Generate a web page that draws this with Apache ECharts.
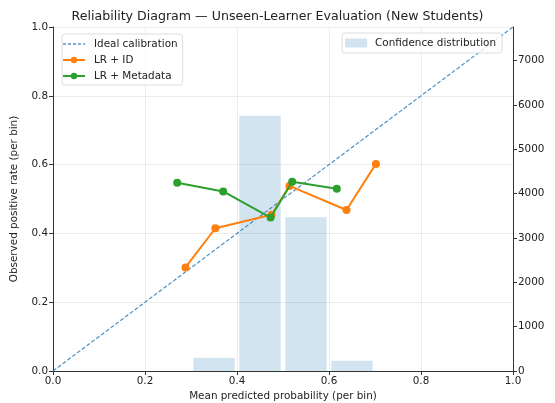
<!DOCTYPE html>
<html>
<head>
<meta charset="utf-8">
<script src="https://cdn.jsdelivr.net/npm/echarts@6/dist/echarts.min.js"></script>
<style>html,body{margin:0;padding:0;background:#fff;}#c{width:555px;height:403px;}</style>
</head>
<body>
<div id="c"></div>
<script>
const idealX = [0, 1];
const idealY = [0, 1];
const lrIdX = [0.288, 0.353, 0.475, 0.514, 0.638, 0.702];
const lrIdY = [0.301, 0.415, 0.454, 0.538, 0.468, 0.602];
const lrMetaX = [0.270, 0.370, 0.473, 0.520, 0.617];
const lrMetaY = [0.547, 0.522, 0.446, 0.550, 0.530];
const binStart = [0.305, 0.405, 0.505, 0.605];
const binEnd = [0.395, 0.495, 0.595, 0.695];
const binCount = [300, 5760, 3470, 232];
const xTicks = [0, 0.2, 0.4, 0.6, 0.8, 1.0];

const font = 'DejaVu Sans';
const fs = 10.4;
const zip = (a, b) => a.map((v, i) => [v, b[i]]);
const chart = echarts.init(document.getElementById('c'));
const axisLine = { show: true, lineStyle: { color: '#333', width: 1 } };
const axisTick = { show: true, length: 4, lineStyle: { color: '#333' } };
chart.setOption({
  animation: false,
  textStyle: { fontFamily: font },
  title: {
    text: 'Reliability Diagram \u2014 Unseen-Learner Evaluation (New Students)',
    left: 'center', top: 5,
    textStyle: { fontFamily: font, fontSize: 12.6, fontWeight: 'normal', color: '#222' }
  },
  grid: { left: 53, right: 42, top: 27, bottom: 32, outerBoundsMode: 'none', containLabel: false },
  legend: [
    {
      data: [{ name: 'Ideal calibration', itemStyle: { opacity: 0 },
               lineStyle: { type: [3, 2], width: 1.3, color: '#5b9bd0', opacity: 1 } },
             'LR + ID', 'LR + Metadata'],
      orient: 'vertical', left: 62, top: 34,
      itemWidth: 22, itemHeight: 8, itemGap: 6,
      padding: [5, 5, 4, 0],
      borderColor: '#ddd', borderWidth: 1, borderRadius: 3,
      backgroundColor: 'rgba(255,255,255,0.8)',
      textStyle: { fontFamily: font, fontSize: fs, color: '#222', padding: [0, 0, 0, 4] }
    },
    {
      data: [{ name: 'Confidence distribution', icon: 'rect' }],
      right: 53, top: 33,
      itemWidth: 22, itemHeight: 9,
      padding: [5, 6, 5, 3],
      borderColor: '#ddd', borderWidth: 1, borderRadius: 3,
      backgroundColor: 'rgba(255,255,255,0.8)',
      textStyle: { fontFamily: font, fontSize: fs, color: '#222', padding: [0, 0, 0, 3] }
    }
  ],
  xAxis: {
    type: 'value', min: 0, max: 1, interval: 0.2,
    name: 'Mean predicted probability (per bin)', nameLocation: 'middle', nameGap: 15,
    nameTextStyle: { fontFamily: font, fontSize: fs, color: '#222' },
    axisLine, axisTick,
    axisLabel: { fontFamily: font, fontSize: fs, color: '#222', margin: 5, formatter: v => v.toFixed(1) },
    splitLine: { show: true, lineStyle: { color: '#ececec', width: 1 } }
  },
  yAxis: [
    {
      type: 'value', min: 0, max: 1, interval: 0.2,
      name: 'Observed positive rate (per bin)', nameLocation: 'middle', nameGap: 34,
      nameTextStyle: { fontFamily: font, fontSize: fs, color: '#222' },
      axisLine, axisTick,
      axisLabel: { fontFamily: font, fontSize: fs, color: '#222', margin: 5, formatter: v => v.toFixed(1) },
      splitLine: { show: true, lineStyle: { color: '#ececec', width: 1 } }
    },
    {
      type: 'value', min: 0, max: 7760, interval: 1000, position: 'right',
      name: 'Prediction density (count)', nameLocation: 'middle', nameGap: 38, nameRotate: 90,
      nameTextStyle: { fontFamily: font, fontSize: fs, color: '#222' },
      axisLine, axisTick,
      axisLabel: { fontFamily: font, fontSize: fs, color: '#222', margin: 5, showMaxLabel: false,
        formatter: v => (v % 1000 === 0 ? String(v) : '') },
      splitLine: { show: false }
    }
  ],
  series: [
    {
      name: 'Confidence distribution', type: 'custom', yAxisIndex: 1, z: 1,
      itemStyle: { color: 'rgba(31,119,180,0.2)' },
      data: binStart.map((s, i) => [s, binEnd[i], binCount[i]]),
      encode: { x: [0, 1], y: 2 },
      renderItem: (params, api) => {
        const p0 = api.coord([api.value(0), api.value(2)]);
        const p1 = api.coord([api.value(1), 0]);
        return {
          type: 'rect',
          shape: { x: p0[0], y: p0[1], width: p1[0] - p0[0], height: p1[1] - p0[1] },
          style: { fill: 'rgba(31,119,180,0.2)' }
        };
      }
    },
    {
      name: 'Ideal calibration', type: 'line', z: 2,
      data: zip(idealX, idealY), symbol: 'none',
      itemStyle: { color: 'rgba(31,119,180,0.8)' },
      lineStyle: { type: [4, 2], width: 1.2, color: 'rgba(31,119,180,0.8)' }
    },
    {
      name: 'LR + ID', type: 'line', z: 3,
      data: zip(lrIdX, lrIdY), symbol: 'circle', symbolSize: 8,
      itemStyle: { color: '#ff7f0e' },
      lineStyle: { width: 2, color: '#ff7f0e' }
    },
    {
      name: 'LR + Metadata', type: 'line', z: 4,
      data: zip(lrMetaX, lrMetaY), symbol: 'circle', symbolSize: 8,
      itemStyle: { color: '#2ca02c' },
      lineStyle: { width: 2, color: '#2ca02c' }
    }
  ]
});
</script>
</body>
</html>
